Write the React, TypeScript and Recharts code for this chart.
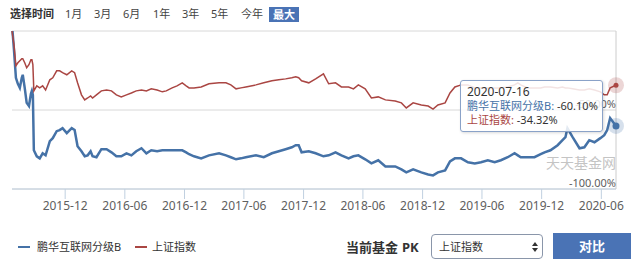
import { LineChart, Line, XAxis, YAxis, CartesianGrid, Tooltip } from 'recharts'

// 累计收益率 (%)，自成立以来
const dates = [
  '2015-06-21', '2015-06-27', '2015-07-03', '2015-07-09', '2015-07-15', '2015-07-21', '2015-07-24', '2015-07-30', '2015-08-05', '2015-08-12',
  '2015-08-18', '2015-08-21', '2015-08-24', '2015-08-27', '2015-09-05', '2015-09-14', '2015-09-23', '2015-10-02', '2015-10-15', '2015-10-24',
  '2015-11-05', '2015-11-14', '2015-11-23', '2015-12-06', '2015-12-21', '2015-12-30', '2016-01-08', '2016-01-20', '2016-01-30', '2016-02-08',
  '2016-02-17', '2016-02-23', '2016-03-06', '2016-03-21', '2016-04-06', '2016-04-21', '2016-05-06', '2016-05-21', '2016-06-06', '2016-06-21',
  '2016-07-06', '2016-07-22', '2016-08-06', '2016-08-21', '2016-09-08', '2016-09-24', '2016-10-06', '2016-10-24', '2016-11-08', '2016-11-24',
  '2016-12-06', '2016-12-15', '2016-12-30', '2017-01-21', '2017-02-14', '2017-03-17', '2017-04-07', '2017-04-22', '2017-05-08', '2017-05-23',
  '2017-06-07', '2017-07-08', '2017-08-01', '2017-08-26', '2017-09-16', '2017-10-07', '2017-10-26', '2017-11-07', '2017-11-16', '2017-11-25',
  '2017-12-17', '2018-01-07', '2018-01-31', '2018-02-16', '2018-03-09', '2018-03-27', '2018-04-18', '2018-05-03', '2018-05-18', '2018-06-08',
  '2018-06-27', '2018-07-18', '2018-08-09', '2018-09-08', '2018-09-27', '2018-10-12', '2018-11-02', '2018-11-27', '2018-12-18', '2019-01-02',
  '2019-01-17', '2019-02-08', '2019-02-23', '2019-03-10', '2019-03-29', '2019-04-19', '2019-05-10', '2019-05-29', '2019-06-19', '2019-07-10',
  '2019-07-29', '2019-08-19', '2019-09-09', '2019-09-19', '2019-09-28', '2019-10-19', '2019-11-09', '2019-11-28', '2019-12-10', '2019-12-28',
  '2020-01-19', '2020-02-03', '2020-02-12', '2020-02-18', '2020-03-05', '2020-03-26', '2020-04-10', '2020-04-25', '2020-05-11', '2020-05-29',
  '2020-06-10', '2020-06-19', '2020-06-28', '2020-07-16',
]

const fundReturns = [
  4.1, -11.8, -29.6, -33.4, -36.0, -29.6, -27.7, -36.0, -45.5, -47.5,
  -39.8, -37.9, -40.4, -75.5, -79.3, -80.6, -77.4, -78.7, -69.7, -67.8,
  -63.4, -62.7, -61.5, -64.6, -61.5, -62.7, -72.9, -76.1, -79.3, -78.7,
  -76.1, -79.3, -79.9, -74.8, -74.8, -76.8, -79.3, -79.3, -77.4, -78.7,
  -76.1, -74.2, -77.4, -75.5, -76.1, -75.5, -75.5, -75.5, -75.5, -75.5,
  -76.8, -78.0, -79.3, -80.6, -78.7, -77.4, -78.7, -79.9, -81.2, -80.6,
  -79.9, -78.7, -79.9, -77.4, -76.1, -74.8, -73.6, -72.3, -72.3, -76.8,
  -76.1, -77.4, -79.3, -78.7, -76.8, -78.7, -80.6, -79.3, -78.7, -81.2,
  -83.8, -81.8, -85.7, -85.7, -87.6, -89.5, -87.6, -89.5, -90.8, -91.4,
  -89.5, -88.2, -82.5, -80.6, -80.6, -83.1, -83.8, -83.1, -81.8, -83.1,
  -81.8, -79.9, -77.4, -78.7, -79.9, -79.9, -79.9, -78.0, -76.8, -75.5,
  -72.3, -69.1, -67.2, -61.5, -67.2, -74.2, -73.6, -69.1, -70.4, -67.8,
  -65.9, -62.7, -55.1, -60.1,
]

const indexReturns = [
  0, -8.6, -22.0, -20.1, -18.8, -17.5, -17.5, -20.1, -23.3, -21.3,
  -18.2, -18.2, -21.3, -37.9, -34.7, -36.0, -34.7, -37.3, -30.9, -29.6,
  -25.2, -25.2, -26.4, -27.7, -25.2, -26.4, -32.8, -40.4, -43.6, -42.4,
  -41.1, -42.4, -40.4, -37.9, -37.3, -37.9, -40.4, -41.7, -40.4, -39.2,
  -37.9, -37.3, -37.9, -36.6, -37.3, -38.5, -37.9, -36.0, -34.7, -32.8,
  -34.7, -36.0, -36.0, -35.4, -33.4, -32.8, -32.8, -34.1, -36.6, -36.0,
  -35.4, -34.1, -32.8, -31.5, -30.9, -30.3, -29.6, -29.0, -29.6, -31.5,
  -32.8, -30.3, -27.1, -33.4, -32.8, -35.4, -35.4, -36.6, -34.1, -36.6,
  -42.4, -41.7, -43.6, -44.3, -45.5, -48.7, -45.5, -46.8, -47.5, -49.4,
  -46.8, -45.5, -39.2, -35.4, -34.1, -34.1, -36.0, -36.0, -36.0, -36.0,
  -36.0, -35.4, -34.1, -32.8, -34.1, -36.0, -36.0, -36.0, -35.4, -35.4,
  -36.0, -35.4, -36.0, -36.0, -36.6, -37.3, -37.3, -36.6, -37.3, -38.5,
  -40.4, -40.4, -36.0, -34.32,
]

const xTickDates = [
  '2015-12-01', '2016-06-01', '2016-12-01', '2017-06-01', '2017-12-01',
  '2018-06-01', '2018-12-01', '2019-06-01', '2019-12-01', '2020-06-01',
]
const yTicks = [-100, -50, 0]
const periods = ['1月', '3月', '6月', '1年', '3年', '5年', '今年']
const periodLefts = [65, 94, 123, 153, 182, 211, 241]
const fundName = '鹏华互联网分级B'
const indexName = '上证指数'
const fundColor = '#4572A7'
const indexColor = '#AA4643'
const btnBlue = '#4A73B5'

const FONT = '"Noto Sans", "Noto Sans CJK SC", sans-serif'

const data = dates.map((d, i) => ({ t: Date.parse(d), fund: fundReturns[i], index: indexReturns[i] }))
const xTicks = xTickDates.map((d) => Date.parse(d))

const pad = (n: number) => String(n).padStart(2, '0')
const fmtMonth = (t: number) => {
  const d = new Date(t)
  return `${d.getUTCFullYear()}-${pad(d.getUTCMonth() + 1)}`
}
const fmtDay = (t: number) => {
  const d = new Date(t)
  return `${d.getUTCFullYear()}-${pad(d.getUTCMonth() + 1)}-${pad(d.getUTCDate())}`
}

// labels sit inside the plot, right-aligned just above each grid line
const YTick = (props: any) => {
  const { x, y, payload } = props
  if (payload.value === 0) return null
  return (
    <text x={x} y={y - 2} textAnchor="end" fill="#606060" fontSize={11} fontFamily={FONT}>
      {`${payload.value.toFixed(2)}%`}
    </text>
  )
}

const haloDot = (color: string, r: number) => (p: any) => (
  <g>
    <circle cx={p.cx} cy={p.cy} r={8} fill={color} fillOpacity={0.22} />
    <circle cx={p.cx} cy={p.cy} r={r} fill={color} />
  </g>
)

const TipBox = ({ active, payload, label }: any) => {
  if (!active || !payload || !payload.length) return null
  return (
    <div
      style={{
        width: 143,
        height: 52,
        boxSizing: 'border-box',
        padding: '4px 6px',
        background: 'rgba(255,255,255,0.85)',
        border: '1px solid #8aa2c8',
        borderRadius: 3,
        boxShadow: '1px 1px 3px rgba(0,0,0,0.15)',
        fontFamily: FONT,
        fontSize: 11,
        lineHeight: '14px',
        color: '#333',
        whiteSpace: 'nowrap',
      }}
    >
      <div style={{ fontSize: 12 }}>{fmtDay(label)}</div>
      {payload.map((p: any) => (
        <div key={p.dataKey}>
          <span style={{ color: p.color }}>{p.name}: </span>
          <span>{Number(p.value).toFixed(2)}%</span>
        </div>
      ))}
    </div>
  )
}

const abs = (left: number, top: number, extra: any = {}) => ({ position: 'absolute' as const, left, top, ...extra })

export default function App() {
  return (
    <div style={{ position: 'absolute', left: 0, top: 0, width: 640, height: 273, background: '#fff', fontFamily: FONT, color: '#333', overflow: 'hidden' }}>
      {/* time range bar */}
      <div style={abs(10, 6, { fontSize: 11, fontWeight: 'bold', lineHeight: '15px' })}>选择时间</div>
      {periods.map((p, i) => (
        <div key={p} style={abs(periodLefts[i], 6, { fontSize: 11, lineHeight: '15px', color: '#444' })}>
          {p}
        </div>
      ))}
      <div style={abs(269, 7, { width: 30, height: 15, background: btnBlue, color: '#fff', fontSize: 11, fontWeight: 'bold', lineHeight: '15px', textAlign: 'center' })}>
        最大
      </div>

      <div style={abs(0, 0)}>
        <LineChart width={640} height={215} data={data} margin={{ top: 31, right: 23, bottom: 0, left: 12 }}>
          <CartesianGrid vertical={false} stroke="#D8D8D8" />
          <XAxis
            dataKey="t"
            type="number"
            domain={['dataMin', 'dataMax']}
            ticks={xTicks}
            tickFormatter={fmtMonth}
            height={26}
            tickSize={10}
            tickMargin={2}
            stroke="#C0D0E0"
            tick={{ fill: '#606060', fontSize: 12, fontFamily: FONT }}
          />
          <YAxis
            orientation="right"
            width={1}
            domain={[-100, 0]}
            ticks={yTicks}
            interval={0}
            allowDataOverflow
            tickSize={0}
            tickMargin={0}
            tickLine={false}
            stroke="#CCCCCC"
            tick={YTick}
          />
          <Line
            dataKey="fund"
            name={fundName}
            stroke={fundColor}
            strokeWidth={2.5}
            dot={false}
            activeDot={haloDot(fundColor, 3.5)}
            isAnimationActive={false}
          />
          <Line
            dataKey="index"
            name={indexName}
            stroke={indexColor}
            strokeWidth={1.5}
            dot={false}
            activeDot={haloDot(indexColor, 2.5)}
            isAnimationActive={false}
          />
          <Tooltip
            defaultIndex={data.length - 1}
            cursor={false}
            position={{ x: 460, y: 80 }}
            content={<TipBox />}
            isAnimationActive={false}
            wrapperStyle={{ outline: 'none' }}
          />
        </LineChart>
      </div>

      <div style={abs(546, 154, { fontSize: 14, lineHeight: '16px', color: '#c4c4c4', fontFamily: '"Noto Sans CJK SC", sans-serif' })}>天天基金网</div>

      {/* legend */}
      <div style={abs(18, 246, { width: 12, height: 2, background: fundColor })} />
      <div style={abs(37, 240, { fontSize: 11, lineHeight: '14px' })}>{fundName}</div>
      <div style={abs(135, 246, { width: 12, height: 2, background: indexColor })} />
      <div style={abs(152, 240, { fontSize: 11, lineHeight: '14px' })}>{indexName}</div>

      {/* compare controls */}
      <div style={abs(346, 239, { fontSize: 13, fontWeight: 'bold', lineHeight: '16px' })}>当前基金</div>
      <div style={abs(402, 239, { fontSize: 13, fontWeight: 'bold', lineHeight: '16px' })}>PK</div>
      <div style={abs(431, 234, { width: 112, height: 25, boxSizing: 'border-box', border: '1px solid #8a96aa', borderRadius: 4, background: '#fff' })}>
        <div style={abs(7, 4, { fontSize: 11, lineHeight: '15px', color: '#333' })}>{indexName}</div>
        <svg style={abs(100, 7)} width={6} height={10}>
          <polygon points="0,4 3,0 6,4" fill="#333" />
          <polygon points="0,6 3,10 6,6" fill="#333" />
        </svg>
      </div>
      <div style={abs(553, 233, { width: 78, height: 26, background: btnBlue, color: '#fff', fontSize: 13, fontWeight: 'bold', lineHeight: '26px', textAlign: 'center' })}>
        对比
      </div>
    </div>
  )
}
